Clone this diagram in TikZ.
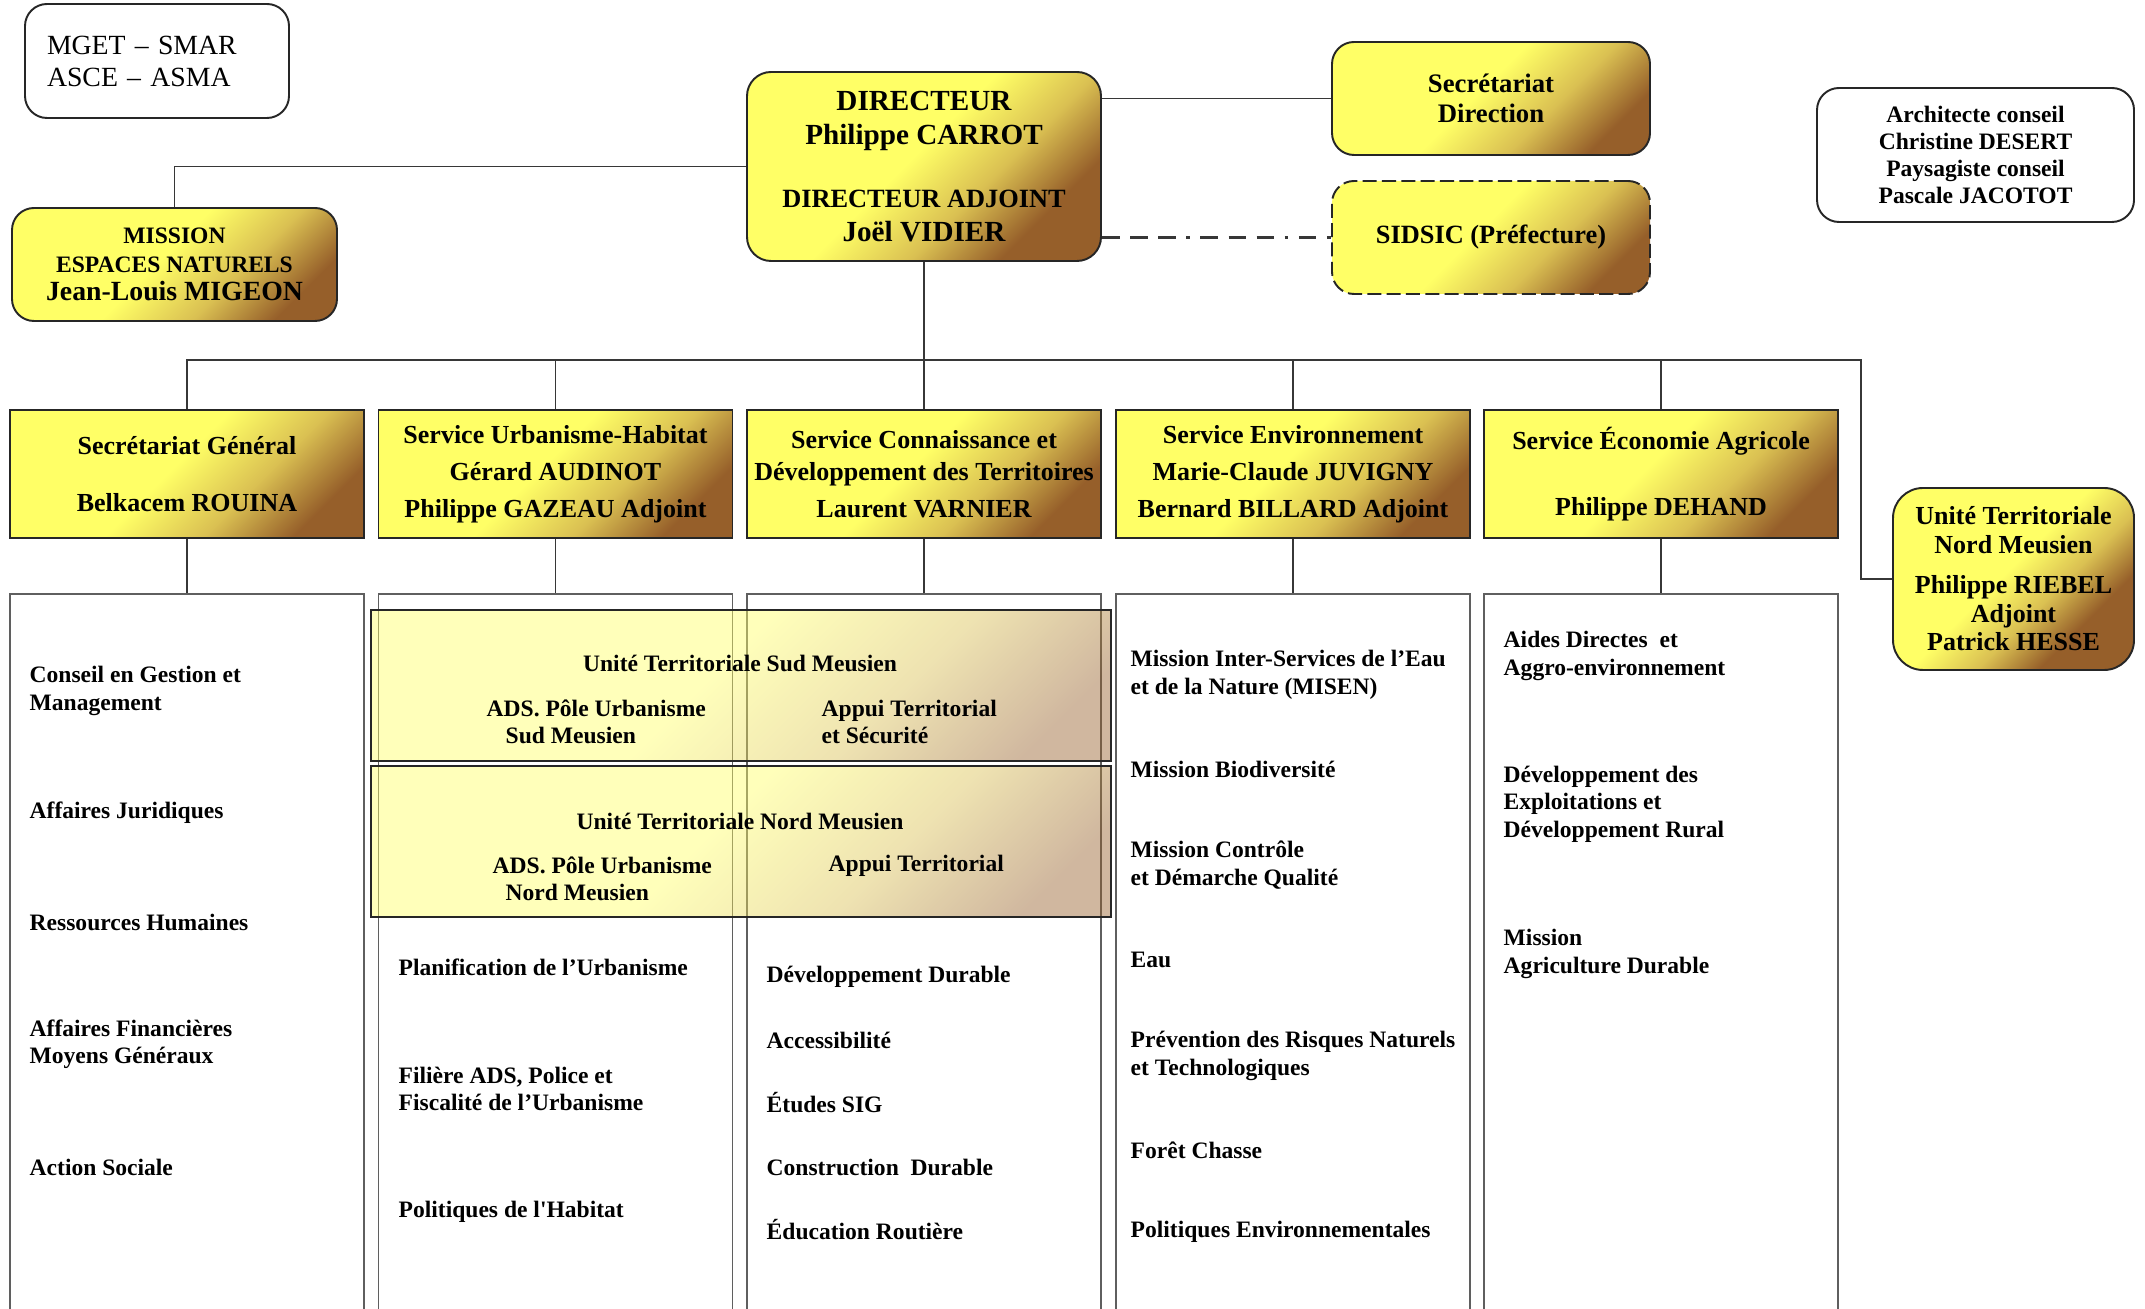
\documentclass[tikz,border=0pt]{standalone}
\usepackage{fontspec}
\setmainfont{Liberation Serif}
\usetikzlibrary{positioning, calc, shapes}

\definecolor{jaune}{RGB}{255,255,102}
\definecolor{or}{RGB}{218,192,82}
\definecolor{ocre}{RGB}{150,95,42}
\definecolor{trait}{RGB}{55,55,55}

\pgfdeclareverticalshading{dorure}{100bp}{color(0bp)=(ocre); color(33bp)=(ocre); color(42bp)=(or); color(52bp)=(jaune); color(100bp)=(jaune)}
\tikzset{fond/.style={path picture={
  \shade[shading=dorure, shading angle=45, fill opacity=#1]
    let \p1=(path picture bounding box.south west), \p2=(path picture bounding box.north east),
        \n1={max(\x2-\x1,\y2-\y1)/2} in
    ($(path picture bounding box.center)-(\n1,\n1)$) rectangle ($(path picture bounding box.center)+(\n1,\n1)$);}},
  fond/.default=1}

\begin{document}
\begin{tikzpicture}
  \tikzstyle{dore} = [draw=black!85, line width=0.55pt, fond, align=center, inner sep=0pt]
  \tikzstyle{chef} = [dore, rounded corners=0.24cm, font=\fontsize{8.3}{9.6}\selectfont\bfseries]
  \tikzstyle{secr} = [dore, rounded corners=0.22cm, font=\fontsize{7.6}{8.5}\selectfont\bfseries, minimum width=3.18cm, minimum height=1.13cm]
  \tikzstyle{service} = [dore, font=\fontsize{7.4}{10.5}\selectfont\bfseries, minimum width=3.54cm, minimum height=1.28cm]
  \tikzstyle{blanc} = [draw=black!85, line width=0.55pt, rounded corners=0.22cm, align=center, inner sep=0pt]
  \tikzstyle{liste} = [draw=trait!80, line width=0.55pt, minimum width=3.54cm, minimum height=7.36cm, inner sep=0pt]
  \tikzstyle{tache} = [anchor=west, align=left, inner sep=0pt, font=\fontsize{6.7}{7.8}\selectfont\bfseries]
  \tikzstyle{unite} = [draw=black!85, line width=0.55pt, fond=0.45, minimum width=7.40cm, minimum height=1.51cm, inner sep=0pt]
  \tikzstyle{lien} = [draw=trait, line width=0.5pt]
  \tikzstyle{pointille} = [lien, line width=0.6pt, dash pattern=on 5pt off 3pt on 5pt off 3pt on 5pt off 3pt on 1pt off 3pt]
  \useasboundingbox (0,0) rectangle (21.45,-13.09);
  \clip (0,0) rectangle (21.45,-13.09);

  % direction
  \node[blanc, minimum width=2.64cm, minimum height=1.14cm, text width=2.20cm, align=left, font=\fontsize{7.9}{9.1}\selectfont] at (1.57,-0.61) (MG) {MGET – SMAR\\ASCE – ASMA};
  \node[chef, minimum width=3.54cm, minimum height=1.89cm] at (9.24,-1.665) (DIR) {DIRECTEUR\\Philippe CARROT\\[0.29cm]{\fontsize{7.5}{9.6}\selectfont DIRECTEUR ADJOINT}\\Joël VIDIER};
  \node[secr] at (14.91,-0.985) (SD) {Secrétariat\\Direction};
  \node[secr, dash pattern=on 4pt off 1.5pt, font=\fontsize{7.5}{8.5}\selectfont\bfseries] at (14.91,-2.375) (SIDSIC) {SIDSIC (Préfecture)};
  \node[blanc, minimum width=3.17cm, minimum height=1.34cm, font=\fontsize{6.7}{7.7}\selectfont\bfseries] at (19.755,-1.55) (AC) {Architecte conseil\\Christine DESERT\\Paysagiste conseil\\Pascale JACOTOT};
  \node[secr, minimum width=3.25cm, font=\fontsize{6.7}{8.2}\selectfont\bfseries] at (1.745,-2.645) (MEN) {MISSION\\ESPACES NATURELS\\{\fontsize{7.9}{8.2}\selectfont Jean-Louis MIGEON}};

  % services
  \node[service] at (1.87,-4.74) (SG) {Secrétariat Général\\[5.9pt]Belkacem ROUINA};
  \node[service] at (5.555,-4.74) (SUH) {Service Urbanisme-Habitat\\Gérard AUDINOT\\Philippe GAZEAU Adjoint};
  \node[service, font=\fontsize{7.4}{9.3}\selectfont\bfseries] at (9.24,-4.74) (SCDT) {Service Connaissance et\\Développement des Territoires\\[1.1pt]Laurent VARNIER};
  \node[service] at (12.93,-4.74) (SE) {Service Environnement\\Marie-Claude JUVIGNY\\Bernard BILLARD Adjoint};
  \node[service] at (16.61,-4.74) (SEA) {Service Économie Agricole\\[8.2pt]Philippe DEHAND};
  \node[chef, rounded corners=0.3cm, minimum width=2.41cm, minimum height=1.82cm, font=\fontsize{7.4}{8.2}\selectfont\bfseries] at (20.135,-5.79) (UTN) {Unité Territoriale\\Nord Meusien\\[3.1pt]Philippe RIEBEL\\Adjoint\\Patrick HESSE};

  % listes
  \node[liste] at (1.87,-9.62) (LSG) {};
  \node[liste] at (5.555,-9.62) (LSUH) {};
  \node[liste] at (9.24,-9.62) (LSCDT) {};
  \node[liste] at (12.93,-9.62) (LSE) {};
  \node[liste] at (16.61,-9.62) (LSEA) {};

  % unites territoriales
  \node[unite] at (7.41,-6.855) (UTS) {};
  \node[unite] at (7.41,-8.415) (UTNM) {};
  \node[tache, anchor=center] at (7.40,-6.635) (UTSt) {Unité Territoriale Sud Meusien};
  \node[tache] at (4.86,-7.22) (UTSa) {ADS. Pôle Urbanisme\\\hspace*{0.19cm}Sud Meusien};
  \node[tache] at (8.21,-7.22) (UTSb) {Appui Territorial\\et Sécurité};
  \node[tache, anchor=center] at (7.40,-8.21) (UTNt) {Unité Territoriale Nord Meusien};
  \node[tache] at (4.92,-8.79) (UTNa) {ADS. Pôle Urbanisme\\\hspace*{0.13cm}Nord Meusien};
  \node[tache] at (8.28,-8.66) (UTNb) {Appui Territorial};

  % taches
  \node[tache] at (0.29,-6.91) (T11) {Conseil en Gestion et\\Management};
  \node[tache] at (0.29,-8.13) (T12) {Affaires Juridiques};
  \node[tache] at (0.29,-9.22) (T13) {Ressources Humaines};
  \node[tache] at (0.29,-10.44) (T14) {Affaires Financières\\Moyens Généraux};
  \node[tache] at (0.29,-11.67) (T15) {Action Sociale};
  \node[tache] at (3.98,-9.67) (T21) {Planification de l’Urbanisme};
  \node[tache] at (3.98,-10.89) (T22) {Filière ADS, Police et\\Fiscalité de l’Urbanisme};
  \node[tache] at (3.98,-12.12) (T23) {Politiques de l\textquotesingle Habitat};
  \node[tache] at (7.66,-9.77) (T31) {Développement Durable};
  \node[tache] at (7.66,-10.40) (T32) {Accessibilité};
  \node[tache] at (7.66,-11.03) (T33) {Études SIG};
  \node[tache] at (7.66,-11.67) (T34) {Construction~ Durable};
  \node[tache] at (7.66,-12.30) (T35) {Éducation Routière};
  \node[tache] at (11.30,-6.75) (T41) {Mission Inter-Services de l’Eau\\et de la Nature (MISEN)};
  \node[tache] at (11.30,-7.69) (T42) {Mission Biodiversité};
  \node[tache] at (11.30,-8.65) (T43) {Mission Contrôle\\et Démarche Qualité};
  \node[tache] at (11.30,-9.60) (T44) {Eau};
  \node[tache] at (11.30,-10.56) (T45) {Prévention des Risques Naturels\\et Technologiques};
  \node[tache] at (11.30,-11.50) (T46) {Forêt Chasse};
  \node[tache] at (11.30,-12.32) (T47) {Politiques Environnementales};
  \node[tache] at (15.03,-6.56) (T51) {Aides Directes~ et\\Aggro-environnement};
  \node[tache] at (15.03,-8.04) (T52) {Développement des\\Exploitations et\\Développement Rural};
  \node[tache] at (15.03,-9.54) (T53) {Mission\\Agriculture Durable};

  % liens
  \coordinate (bus) at (9.24,-3.60);
  \coordinate (coin) at (18.61,-3.60);
  \draw[lien] (DIR.east |- SD.west) -- (SD.west);
  \draw[pointille] (DIR.east |- SIDSIC.west) -- (SIDSIC.west);
  \draw[lien] (DIR.west) -| (MEN.north);
  \draw[lien] (DIR.south) -- (bus);
  \draw[lien] (SG.north) |- (bus);
  \draw[lien] (SUH.north) |- (bus);
  \draw[lien] (SCDT.north) -- (bus);
  \draw[lien] (SE.north) |- (bus);
  \draw[lien] (SEA.north) |- (bus);
  \draw[lien] (bus) -- (coin) |- (UTN.west);
  \draw[lien] (SG.south) -- (LSG.north);
  \draw[lien] (SUH.south) -- (LSUH.north);
  \draw[lien] (SCDT.south) -- (LSCDT.north);
  \draw[lien] (SE.south) -- (LSE.north);
  \draw[lien] (SEA.south) -- (LSEA.north);
\end{tikzpicture}
\end{document}
